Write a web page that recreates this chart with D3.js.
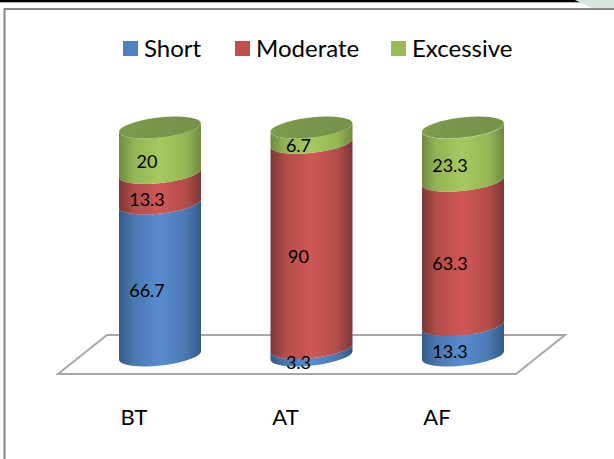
<!DOCTYPE html>
<html>
<head>
<meta charset="utf-8">
<script src="https://cdn.jsdelivr.net/npm/d3@7"></script>
<style>
  html, body { margin: 0; padding: 0; background: #fff; }
  svg { display: block; }
  text { font-family: Lato, "Open Sans", sans-serif; fill: #000; }
</style>
</head>
<body>
<svg id="chart" width="614" height="459"></svg>
<script>
var categories = ["BT", "AT", "AF"];
var seriesNames = ["Short", "Moderate", "Excessive"];
var shortValues = [66.7, 3.3, 13.3];
var moderateValues = [13.3, 90, 63.3];
var excessiveValues = [20, 6.7, 23.3];
var seriesValues = [shortValues, moderateValues, excessiveValues];

var legendColors = ["#4f81bd", "#c0504d", "#9bbb59"];
// edge, shoulder, centre
var gradientStops = [
  ["#335a86", "#4a78b0", "#5a8dcf"],
  ["#7a3836", "#b34c4a", "#cf5856"],
  ["#6f8b43", "#93b554", "#a6ca60"]
];

var svg = d3.select("#chart");

var x = d3.scalePoint().domain(categories).range([160, 463]);
var y = d3.scaleLinear().domain([0, 100]).range([355.5, 127.5]);

var rx = 41.2, ry = 10, tilt = -6.3, halfW = 41, halfDrop = 4.5;

// frame + page bits around the chart
svg.append("rect").attr("x", 0).attr("y", 0).attr("width", 614).attr("height", 2.3).attr("fill", "#000");
svg.append("path").attr("d", "M575,0 L614,0 L614,8 L592,8 Z").attr("fill", "#d6e6dc");
svg.append("path").attr("d", "M4.5,459 L4.5,9 L614,9").attr("fill", "none").attr("stroke", "#868686").attr("stroke-width", 2);

// floor
svg.append("path")
  .attr("d", "M58,374 L107,335 L565,335 L516,374 Z")
  .attr("fill", "#fff")
  .attr("stroke", "#a6a6a6")
  .attr("stroke-width", 2);

var defs = svg.append("defs");
gradientStops.forEach(function(s, i) {
  var g = defs.append("linearGradient").attr("id", "grad" + i);
  [[0, 0], [18, 1], [50, 2], [82, 1], [100, 0]].forEach(function(p) {
    g.append("stop").attr("offset", p[0] + "%").attr("stop-color", s[p[1]]);
  });
});
var capGrad = defs.append("linearGradient").attr("id", "capGrad");
capGrad.append("stop").attr("offset", "0%").attr("stop-color", "#7d9a4d");
capGrad.append("stop").attr("offset", "100%").attr("stop-color", "#76914a");

var rows = categories.map(function(c, i) {
  var row = { cat: c };
  seriesNames.forEach(function(n, j) { row[n] = seriesValues[j][i]; });
  return row;
});
var stacked = d3.stack().keys(seriesNames)(rows);

function arc(sweep, px, py) {
  return "A" + rx + "," + ry + " " + tilt + " 0 " + sweep + " " + px + "," + py;
}

// one band of a cylinder, bottom edge bulges down and top edge follows it
function band(d) {
  var cx = x(d.data.cat), yb = y(d[0]), yt = y(d[1]);
  return "M" + (cx - halfW) + "," + (yb + halfDrop) +
    arc(0, cx + halfW, yb - halfDrop) +
    "L" + (cx + halfW) + "," + (yt - halfDrop) +
    arc(1, cx - halfW, yt + halfDrop) + "Z";
}

svg.append("g").selectAll("g")
  .data(stacked)
  .enter().append("g")
  .attr("fill", function(s) { return "url(#grad" + s.index + ")"; })
  .selectAll("path")
  .data(function(s) { return s; })
  .enter().append("path")
  .attr("d", band);

// top caps
svg.append("g").selectAll("ellipse")
  .data(rows)
  .enter().append("ellipse")
  .attr("rx", rx)
  .attr("ry", ry)
  .attr("fill", "url(#capGrad)")
  .attr("transform", function(d) {
    return "translate(" + x(d.cat) + "," + y(100) + ") rotate(" + tilt + ")";
  });

// value labels
svg.append("g").selectAll("g")
  .data(stacked)
  .enter().append("g")
  .selectAll("text")
  .data(function(s) { return s; })
  .enter().append("text")
  .attr("x", function(d) { return x(d.data.cat) - 13; })
  .attr("y", function(d) { return y((d[0] + d[1]) / 2) + 11; })
  .attr("dy", "0.35em")
  .attr("text-anchor", "middle")
  .attr("font-size", 18)
  .text(function(d) { return +(d[1] - d[0]).toFixed(1); });

// category labels
svg.append("g").selectAll("text")
  .data(categories)
  .enter().append("text")
  .attr("x", function(d) { return x(d) - 26; })
  .attr("y", 417)
  .attr("dy", "0.35em")
  .attr("text-anchor", "middle")
  .attr("font-size", 22)
  .text(function(d) { return d; });

// legend
var legendX = [123, 235, 391];
var legend = svg.append("g").selectAll("g")
  .data(seriesNames)
  .enter().append("g")
  .attr("transform", function(d, i) { return "translate(" + legendX[i] + ",41)"; });
legend.append("rect")
  .attr("width", 15)
  .attr("height", 15)
  .attr("fill", function(d, i) { return legendColors[i]; });
legend.append("text")
  .attr("x", 21)
  .attr("y", 8)
  .attr("dy", "0.35em")
  .attr("font-size", 24)
  .text(function(d) { return d; });
</script>
</body>
</html>
